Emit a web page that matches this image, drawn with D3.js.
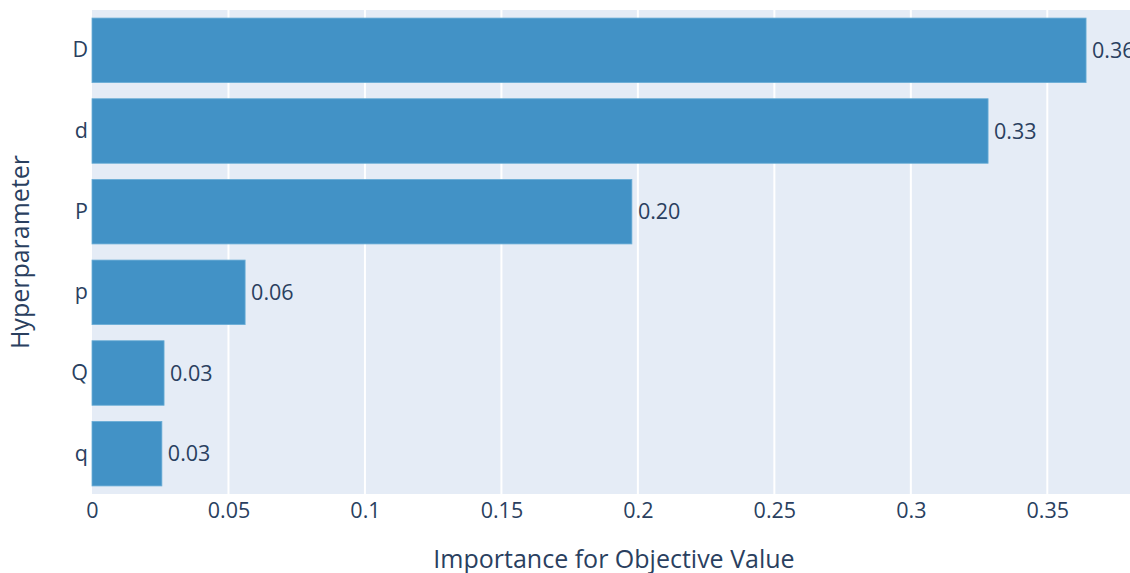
<!DOCTYPE html>
<html><head><meta charset="utf-8">
<script src="https://cdn.jsdelivr.net/npm/d3@7"></script>
<style>body{margin:0;background:#fff}svg{display:block}text{font-family:"Open Sans",sans-serif;fill:#2a3f5f}</style>
</head><body><div id="chart"></div>
<script>
const categories = ["D","d","P","p","Q","q"];
const values = [0.3642, 0.3283, 0.1978, 0.0561, 0.0264, 0.0256];
const labels = ["0.36","0.33","0.20","0.06","0.03","0.03"];
const xTicks = [0,0.05,0.1,0.15,0.2,0.25,0.3,0.35];
const xTickLabels = ["0","0.05","0.1","0.15","0.2","0.25","0.3","0.35"];

const W=1130,H=573;
const pLeft=92, pTop=10, pBottom=494;
const svg=d3.select("#chart").append("svg").attr("width",W).attr("height",H);
const x=d3.scaleLinear().domain([0,0.35]).range([pLeft,1047.3]);
const y=d3.scaleBand().domain(categories).range([pTop,pBottom]).paddingInner(0.2).paddingOuter(0.1);

svg.append("rect").attr("x",pLeft).attr("y",pTop).attr("width",W-pLeft).attr("height",pBottom-pTop).attr("fill","#E5ECF6");

const xAxis=svg.append("g").attr("transform",`translate(0,${pBottom})`)
  .call(d3.axisBottom(x).tickValues(xTicks).tickFormat((d,i)=>xTickLabels[i]).tickSize(0).tickPadding(9));
xAxis.select(".domain").remove();
xAxis.selectAll("text").style("font-size","21.5px").attr("fill","#2a3f5f");

svg.append("g").selectAll("line").data(xTicks.slice(1)).join("line")
  .attr("x1",d=>x(d)).attr("x2",d=>x(d)).attr("y1",pTop).attr("y2",pBottom)
  .attr("stroke","#fff").attr("stroke-width",2);

const yAxis=svg.append("g").attr("transform",`translate(${pLeft},0)`)
  .call(d3.axisLeft(y).tickSize(0).tickPadding(4));
yAxis.select(".domain").remove();
yAxis.selectAll("text").style("font-size","21.5px").attr("fill","#2a3f5f");

svg.append("g").selectAll("rect").data(values).join("rect")
  .attr("x",x(0)).attr("y",(d,i)=>y(categories[i]))
  .attr("width",d=>x(d)-x(0)).attr("height",y.bandwidth())
  .attr("fill","#4292c6").attr("stroke","#6baed6").attr("stroke-width",0.8);

svg.append("g").selectAll("text").data(values).join("text")
  .attr("x",d=>x(d)+6).attr("y",(d,i)=>y(categories[i])+y.bandwidth()/2)
  .attr("dy","0.35em").style("font-size","21.5px").text((d,i)=>labels[i]);

svg.append("text").attr("x",614).attr("y",568).attr("text-anchor","middle")
  .style("font-size","25px").text("Importance for Objective Value");
svg.append("text").attr("transform",`translate(29,${(pTop+pBottom)/2}) rotate(-90)`).attr("text-anchor","middle")
  .style("font-size","25px").text("Hyperparameter");
</script></body></html>
